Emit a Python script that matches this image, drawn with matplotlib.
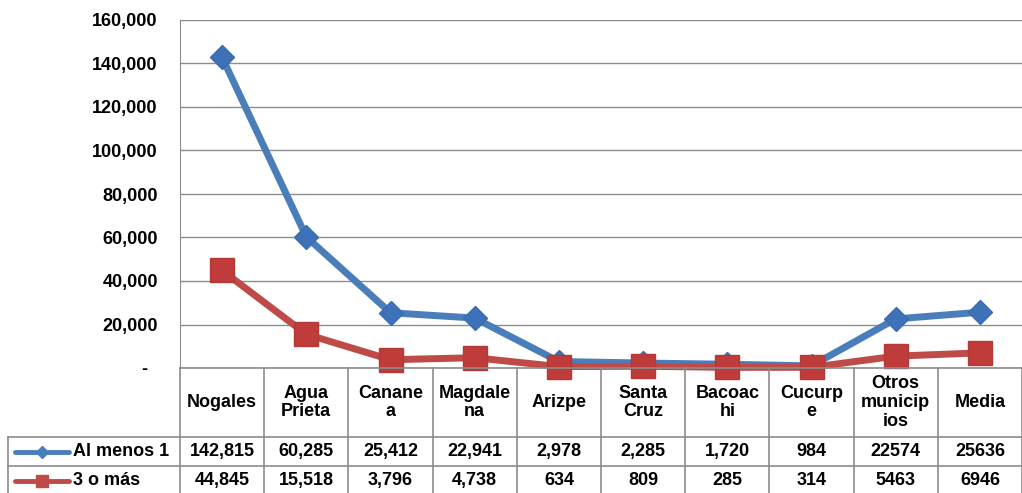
import matplotlib
matplotlib.use("Agg")
import matplotlib.pyplot as plt
from matplotlib.lines import Line2D
from matplotlib.transforms import blended_transform_factory

plt.rcParams['font.family'] = ['Liberation Sans', 'DejaVu Sans']

categories = ["Nogales", "Agua\nPrieta", "Canane\na", "Magdale\nna", "Arizpe",
              "Santa\nCruz", "Bacoac\nhi", "Cucurp\ne", "Otros\nmunicip\nios", "Media"]
al_menos_1 = [142815, 60285, 25412, 22941, 2978, 2285, 1720, 984, 22574, 25636]
tres_o_mas = [44845, 15518, 3796, 4738, 634, 809, 285, 314, 5463, 6946]
al_menos_1_labels = ["142,815", "60,285", "25,412", "22,941", "2,978", "2,285",
                     "1,720", "984", "22574", "25636"]
tres_o_mas_labels = ["44,845", "15,518", "3,796", "4,738", "634", "809",
                     "285", "314", "5463", "6946"]
series_names = ["Al menos 1", "3 o más"]
yticks = [0, 20000, 40000, 60000, 80000, 100000, 120000, 140000, 160000]

BLUE = "#4a7ebb"
RED = "#be4b48"
GRID = "#8c8c8c"
W, H = 1022, 493
FS = 13

fig = plt.figure(figsize=(W / 100, H / 100), dpi=100)
ax = fig.add_axes([180 / W, (H - 368) / H, 842 / W, 348 / H])

x = list(range(len(categories)))
ax.plot(x, al_menos_1, color=BLUE, lw=5, marker="D", ms=12.5, mec="#3a6cb0", mfc="#3d72b8",
        solid_capstyle="round", zorder=3, clip_on=False)
ax.plot(x, tres_o_mas, color=RED, lw=5, marker="s", ms=17, mec="#b03a37", mfc="#c03c3a",
        solid_capstyle="round", zorder=4, clip_on=False)

ax.set_xlim(-0.5, len(categories) - 0.5)
ax.set_ylim(0, 160000)
ax.set_yticks(yticks)
ax.set_yticklabels(["-  "] + [f"{v:,}" for v in yticks[1:]], fontsize=FS, fontweight="bold")
ax.tick_params(axis="y", length=0, pad=16)
ax.set_xticks([])
ax.grid(axis="y", color=GRID, lw=1)
ax.set_axisbelow(True)
for s in ["top", "right", "bottom"]:
    ax.spines[s].set_visible(False)
ax.spines["left"].set_color(GRID)


# data table underneath the plot
def fy(py):
    return 1 - py / H


tr = blended_transform_factory(ax.transData, fig.transFigure)
row_top, row1, row2, row_end = 368, 437, 466, 495

# vertical lines at column boundaries
for i in range(len(categories) + 1):
    fig.add_artist(Line2D([i - 0.5, i - 0.5], [fy(row_top), fy(row_end)], transform=tr,
                          color=GRID, lw=1.2, zorder=1))
# horizontal lines
fig.add_artist(Line2D([180 / W, 1], [fy(row_top), fy(row_top)], transform=fig.transFigure,
                      color=GRID, lw=1.2, zorder=1))
for py in (row1, row2):
    fig.add_artist(Line2D([8 / W, 1], [fy(py), fy(py)], transform=fig.transFigure,
                          color=GRID, lw=1.2, zorder=1))
fig.add_artist(Line2D([8 / W, 8 / W], [fy(row1), fy(row_end)], transform=fig.transFigure,
                      color=GRID, lw=1.2, zorder=1))

for i, name in enumerate(categories):
    fig.text(i, fy((row_top + row1) / 2), name, transform=tr, ha="center", va="center",
             fontsize=FS, fontweight="bold", linespacing=1.15)
for i, lab in enumerate(al_menos_1_labels):
    fig.text(i, fy((row1 + row2) / 2), lab, transform=tr, ha="center", va="center",
             fontsize=FS, fontweight="bold")
for i, lab in enumerate(tres_o_mas_labels):
    fig.text(i, fy((row2 + row_end) / 2), lab, transform=tr, ha="center", va="center",
             fontsize=FS, fontweight="bold")

# legend keys inside the table
for (py0, py1), name, col, mk, ms in [((row1, row2), series_names[0], BLUE, "D", 6),
                                      ((row2, row_end), series_names[1], RED, "s", 8)]:
    yc = fy((py0 + py1) / 2)
    fig.add_artist(Line2D([15 / W, 69 / W], [yc, yc], transform=fig.transFigure, color=col, lw=3.5,
                          solid_capstyle="round"))
    fig.add_artist(Line2D([42 / W], [yc], transform=fig.transFigure, color=col, marker=mk, ms=ms))
    fig.text(73 / W, yc, name, ha="left", va="center", fontsize=FS, fontweight="bold")

fig.savefig("out.png", dpi=100)
